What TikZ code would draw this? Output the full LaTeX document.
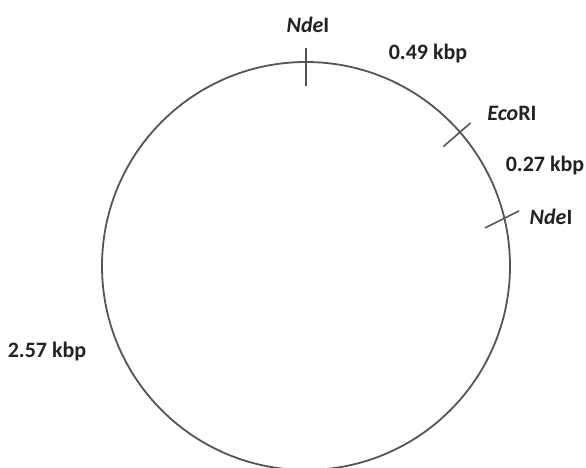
\documentclass[tikz,border=0pt]{standalone}
\usepackage{fontspec}
\setmainfont{Carlito}
\usepackage{tikz}
\usetikzlibrary{calc}
\usepackage{xcolor}
\definecolor{ringgray}{HTML}{555555}
\definecolor{textdark}{HTML}{222222}

\begin{document}
\begin{tikzpicture}[
      x=1pt, y=1pt,
      ring/.style={draw=ringgray, line width=1.8pt},
      cutmark/.style={draw=ringgray, line width=1.6pt},
      lbl/.style={inner sep=0pt, text=textdark, font=\fontsize{22}{26}\selectfont\bfseries}
    ]
    \useasboundingbox (0,0) rectangle (586,468);
    \coordinate (c) at (306,202);
    \draw[ring] (c) circle[radius=204];

    % restriction sites
    \draw[cutmark] ($(c)+(90:180)$) -- ($(c)+(90:218)$);
    \draw[cutmark] ($(c)+(41:182)$) -- ($(c)+(41:218)$);
    \draw[cutmark] ($(c)+(12:183)$) -- ($(c)+(14.5:220)$);

    \node[lbl] (ndeA) at (308,443) {\textit{Nde}I};
    \node[lbl] (ecori) at (512,355) {\textit{Eco}RI};
    \node[lbl] (ndeB) at (551,251) {\textit{Nde}I};

    % fragment lengths
    \node[lbl] (len049) at (428,414) {0.49 kbp};
    \node[lbl] (len027) at (545,302) {0.27 kbp};
    \node[lbl] (len257) at (47,116) {2.57 kbp};
  \end{tikzpicture}
\end{document}
